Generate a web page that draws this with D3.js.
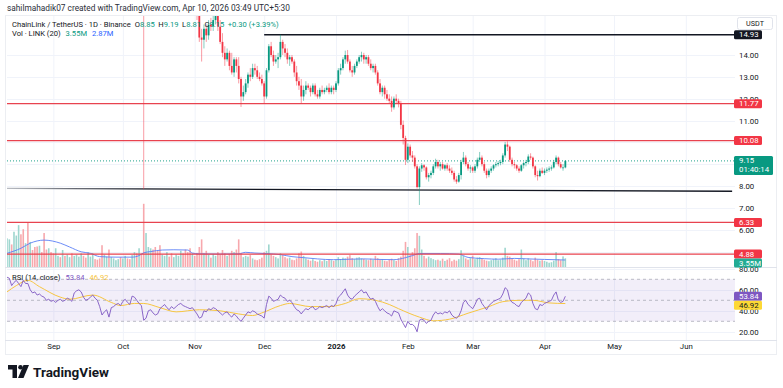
<!DOCTYPE html>
<html>
<head>
<meta charset="utf-8">
<script src="https://cdn.jsdelivr.net/npm/d3@7"></script>
<style>
  body { margin: 0; background: #fff; }
  svg text { font-family: Roboto, "Liberation Sans", Arial, sans-serif; }
</style>
</head>
<body>
<svg id="chart" width="783" height="388"></svg>
<script>
// daily candles, LINK/USDT 1D, first bar on startDate
var startDate = "2025-08-12";
var candles = [
  // Aug
  [20.2,22.0,19.9,21.7],[21.7,24.0,21.5,23.6],[23.6,24.6,21.9,22.4],[22.4,23.3,21.8,22.6],[22.6,23.4,22.3,23.0],
  [23.0,25.0,22.8,24.7],[24.7,25.2,23.4,24.2],[24.2,24.7,22.6,23.0],[23.0,25.6,22.8,25.3],[25.3,26.3,24.5,25.0],
  [25.0,27.8,24.2,26.9],[26.9,27.5,25.6,26.0],[26.0,26.8,25.2,25.7],[25.7,26.0,23.5,23.8],[23.8,24.9,23.3,24.6],
  [24.6,25.0,23.8,24.2],[24.2,24.8,23.6,24.0],[24.0,24.2,22.9,23.3],[23.3,23.7,23.0,23.4],[23.4,23.8,22.9,23.1],
  // Sep
  [23.1,23.3,21.9,22.3],[22.3,22.9,22.0,22.7],[22.7,23.1,22.4,22.9],[22.9,23.0,22.0,22.3],[22.3,22.9,22.0,22.4],
  [22.4,22.6,22.1,22.3],[22.3,22.8,22.2,22.6],[22.6,23.4,22.4,23.3],[23.3,23.5,22.6,22.8],[22.8,23.6,22.7,23.4],
  [23.4,23.9,23.1,23.6],[23.6,24.4,23.3,24.2],[24.2,24.6,23.8,24.3],[24.3,24.4,23.5,23.8],[23.8,24.0,22.9,23.2],
  [23.2,23.7,23.0,23.5],[23.5,24.2,23.0,24.0],[24.0,24.5,23.7,24.1],[24.1,24.2,22.8,22.9],[22.9,23.1,22.5,22.7],
  [22.7,22.9,22.1,22.2],[22.2,22.3,20.8,21.1],[21.1,21.6,20.9,21.3],[21.3,21.9,21.0,21.6],[21.6,21.7,20.0,20.2],
  [20.2,21.3,20.0,21.1],[21.1,21.4,20.9,21.2],[21.2,21.7,21.0,21.6],[21.6,22.0,21.2,21.7],[21.7,21.9,20.8,21.1],
  // Oct
  [21.1,22.2,21.0,22.0],[22.0,22.5,21.8,22.3],[22.3,22.6,21.7,22.0],[22.0,22.1,21.4,21.6],[21.6,22.5,21.5,22.3],
  [22.3,22.9,22.0,22.6],[22.6,22.8,21.2,21.4],[21.4,22.2,21.2,22.0],[22.0,22.1,20.9,21.4],[21.4,22.0,7.86,17.6],
  [17.6,18.5,16.8,17.7],[17.7,19.5,17.2,19.2],[19.2,20.0,18.8,19.5],[19.5,19.7,18.2,19.0],[19.0,19.3,17.8,18.0],
  [18.0,18.4,17.0,17.2],[17.2,17.5,16.2,16.6],[16.6,17.2,16.5,17.0],[17.0,17.6,16.8,17.4],[17.4,18.3,17.2,18.0],
  [18.0,18.4,17.0,17.4],[17.4,17.6,16.6,16.9],[16.9,17.5,16.7,17.3],[17.3,18.0,17.1,17.9],[17.9,18.1,17.6,17.9],
  [17.9,18.7,17.7,18.5],[18.5,18.8,17.9,18.0],[18.0,18.3,17.3,17.6],[17.6,17.9,17.0,17.4],[17.4,17.6,16.4,16.8],
  [16.8,17.2,16.5,16.9],
  // Nov
  [16.9,17.0,16.4,16.6],[16.6,16.7,15.6,15.8],[15.8,16.0,14.6,14.8],[14.8,15.2,13.7,14.7],[14.7,15.4,14.3,15.2],
  [15.2,15.4,14.6,14.9],[14.9,15.6,14.7,15.4],[15.4,15.7,15.1,15.3],[15.3,15.8,15.1,15.6],[15.6,16.3,15.4,15.9],
  [15.9,16.1,15.1,15.3],[15.3,15.6,14.5,14.6],[14.6,15.0,13.9,14.1],[14.1,14.4,13.5,13.8],[13.8,14.3,13.7,14.1],
  [14.1,14.2,13.3,13.5],[13.5,14.1,13.1,13.2],[13.2,13.9,13.0,13.8],[13.8,13.9,13.2,13.5],[13.5,13.9,12.7,12.9],
  [12.9,13.0,11.62,12.1],[12.1,12.6,11.9,12.3],[12.3,12.9,12.2,12.7],[12.7,13.2,12.5,13.1],[13.1,13.4,12.8,13.0],
  [13.0,13.6,12.9,13.4],[13.4,13.6,13.1,13.3],[13.3,13.5,12.9,13.0],[13.0,13.2,12.8,12.9],[12.9,13.1,12.6,12.7],
  // Dec
  [12.7,12.8,11.8,12.1],[12.1,13.4,12.0,13.3],[13.3,14.5,13.2,14.4],[14.4,14.6,13.9,14.0],[14.0,14.2,13.5,13.7],
  [13.7,14.0,13.6,13.8],[13.8,14.1,13.4,13.9],[13.9,14.93,13.8,14.6],[14.6,14.7,14.0,14.3],[14.3,14.5,13.9,14.1],
  [14.1,14.3,13.6,13.8],[13.8,14.0,13.5,13.9],[13.9,14.0,13.6,13.7],[13.7,13.8,13.0,13.2],[13.2,13.5,12.6,12.8],
  [12.8,13.0,12.4,12.6],[12.6,12.9,11.8,12.1],[12.1,12.6,11.9,12.4],[12.4,12.8,12.2,12.6],[12.6,12.7,12.4,12.5],
  [12.5,12.6,12.1,12.3],[12.3,12.7,12.2,12.6],[12.6,12.7,12.1,12.2],[12.2,12.4,12.0,12.1],[12.1,12.5,12.0,12.4],
  [12.4,12.6,12.2,12.3],[12.3,12.5,12.2,12.4],[12.4,12.6,12.3,12.5],[12.5,12.7,12.2,12.3],[12.3,12.6,12.2,12.5],
  [12.5,12.6,12.2,12.4],
  // Jan
  [12.4,12.8,12.3,12.7],[12.7,13.4,12.6,13.3],[13.3,13.6,13.1,13.4],[13.4,13.9,13.3,13.8],[13.8,14.2,13.6,14.0],
  [14.0,14.23,13.6,13.7],[13.7,13.8,13.2,13.3],[13.3,13.5,13.0,13.2],[13.2,13.6,13.1,13.5],[13.5,13.8,13.4,13.7],
  [13.7,14.0,13.6,13.9],[13.9,14.15,13.7,14.0],[14.0,14.1,13.6,13.8],[13.8,14.0,13.6,13.9],[13.9,14.0,13.5,13.6],
  [13.6,13.8,13.3,13.4],[13.4,13.6,13.2,13.5],[13.5,13.6,13.1,13.2],[13.2,13.3,12.6,12.7],[12.7,12.9,12.2,12.3],
  [12.3,12.6,12.1,12.5],[12.5,12.6,12.0,12.2],[12.2,12.4,11.9,12.0],[12.0,12.2,11.8,11.9],[11.9,12.1,11.4,11.6],
  [11.6,12.1,11.5,12.0],[12.0,12.2,11.8,11.9],[11.9,12.0,11.6,11.8],[11.8,11.9,10.6,10.8],[10.8,11.0,9.9,10.2],
  [10.2,10.3,8.96,9.2],
  // Feb
  [9.2,9.95,9.05,9.8],[9.8,9.9,9.3,9.4],[9.4,9.6,9.1,9.3],[9.3,9.4,8.8,8.9],[8.9,9.0,7.88,7.95],
  [7.95,8.9,7.13,8.8],[8.8,9.05,8.65,8.95],[8.95,9.0,8.7,8.85],[8.85,8.9,8.3,8.4],[8.4,8.6,8.2,8.5],
  [8.5,8.7,8.35,8.6],[8.6,9.0,8.5,8.9],[8.9,9.25,8.8,9.1],[9.1,9.2,8.8,8.9],[8.9,9.1,8.7,9.0],
  [9.0,9.1,8.75,8.8],[8.8,9.0,8.7,8.95],[8.95,9.05,8.7,8.8],[8.8,8.95,8.6,8.7],[8.7,8.85,8.5,8.6],
  [8.6,8.7,8.2,8.3],[8.3,8.45,8.1,8.2],[8.2,8.6,8.15,8.5],[8.5,9.2,8.3,9.1],[9.1,9.56,9.0,9.3],
  [9.3,9.4,8.9,9.0],[9.0,9.1,8.7,8.8],[8.8,8.95,8.6,8.85],
  // Mar
  [8.85,8.9,8.6,8.7],[8.7,9.0,8.6,8.9],[8.9,9.3,8.8,9.2],[9.2,9.56,9.1,9.3],[9.3,9.4,8.9,9.0],
  [9.0,9.1,8.6,8.7],[8.7,8.8,8.35,8.5],[8.5,8.8,8.4,8.7],[8.7,8.9,8.6,8.8],[8.8,9.0,8.7,8.95],
  [8.95,9.1,8.85,9.0],[9.0,9.15,8.9,9.05],[9.05,9.2,8.95,9.1],[9.1,9.5,9.0,9.4],[9.4,10.02,9.3,9.9],
  [9.9,10.05,9.6,9.8],[9.8,9.85,9.1,9.2],[9.2,9.3,8.9,9.0],[9.0,9.1,8.8,8.95],[8.95,9.0,8.7,8.8],
  [8.8,8.9,8.6,8.7],[8.7,9.0,8.65,8.95],[8.95,9.1,8.8,9.05],[9.05,9.2,8.9,9.1],[9.1,9.45,9.0,9.35],
  [9.35,9.5,9.2,9.3],[9.3,9.35,8.8,8.9],[8.9,8.95,8.4,8.5],[8.5,8.7,8.25,8.45],[8.45,8.8,8.4,8.7],
  [8.7,8.85,8.55,8.6],
  // Apr
  [8.6,8.8,8.5,8.7],[8.7,8.85,8.6,8.75],[8.75,8.9,8.65,8.8],[8.8,8.95,8.7,8.85],[8.85,9.2,8.8,9.1],
  [9.1,9.4,9.0,9.3],[9.3,9.35,8.9,9.0],[9.0,9.1,8.8,8.85],[8.85,9.0,8.7,8.85],[8.85,9.19,8.81,9.15]
];

// volume, millions of LINK
var volumes = [
  11.4,11.0,9.0,14.0,12.5,16.6,13.0,15.0,9.5,17.8,10.0,6.8,8.0,8.2,8.5,6.0,13.5,7.0,7.5,6.0,
  5.5,7.5,4.5,4.0,6.8,4.5,5.0,4.0,5.5,4.5,5.0,4.2,5.5,4.5,3.8,6.0,4.2,5.5,3.2,3.0,3.5,8.7,5.0,4.2,7.0,4.0,3.5,2.8,3.2,4.0,
  3.5,4.5,3.5,3.2,4.8,6.0,5.5,7.5,5.5,25.0,13.5,8.0,7.5,7.0,8.0,6.5,8.7,5.0,4.5,6.0,4.2,5.5,4.0,5.0,4.5,6.5,5.5,7.0,6.0,7.5,5.5,
  4.5,5.5,8.0,11.0,5.5,6.5,5.0,3.8,5.2,4.5,6.0,5.0,6.8,5.5,4.5,5.2,6.5,6.0,7.0,11.0,5.5,4.0,4.5,4.2,4.8,3.5,3.0,2.8,3.2,3.8,
  6.0,6.5,9.0,5.0,4.5,4.0,3.5,5.5,4.8,4.0,3.5,3.8,3.0,2.8,3.5,5.5,6.2,4.5,3.5,3.0,2.6,3.2,2.5,2.2,2.8,2.4,3.0,2.5,3.2,2.8,2.5,
  3.0,4.0,3.2,3.8,3.5,4.2,4.8,3.6,3.2,3.8,4.0,3.5,3.3,3.0,2.8,3.4,3.0,4.5,3.6,3.0,3.2,2.6,2.4,3.0,3.4,2.8,2.5,3.6,4.2,6.5,10.0,
  8.0,5.0,6.0,7.5,13.5,12.4,7.0,4.5,3.5,4.2,3.6,3.2,2.8,3.0,2.6,3.4,2.5,3.0,3.6,2.4,3.0,2.6,3.2,6.7,4.5,3.5,3.0,3.6,
  4.6,3.2,3.8,4.0,3.5,3.0,2.6,2.4,2.8,3.2,3.6,2.8,3.0,3.8,7.7,4.5,4.2,3.5,3.0,2.6,3.2,7.0,3.4,2.8,3.6,3.0,2.4,3.8,3.0,2.6,2.8,
  2.5,2.2,1.8,2.0,2.6,6.0,3.2,2.8,4.3,3.55
];

// Vol MA(20), read at these bar indexes
var volMaDays = [0,6,10,16,23,27,32,36,40,47,54,57,59,62,67,72,78,80,83,92,100,103,107,112,118,123,128,134,141,148,154,161,167,172,175,178,187,195,199,206,212,219,225,232,241];
var volMa = [5.5,7.5,9.5,10.7,9.5,8.0,6.1,5.5,4.2,4.0,4.0,4.6,5.7,6.2,6.8,6.9,6.8,5.6,5.3,5.2,5.3,5.9,5.6,5.4,5.0,4.2,3.8,3.3,3.0,3.2,3.3,3.1,3.0,3.8,4.6,5.4,5.4,5.2,3.9,3.4,3.2,3.5,3.3,3.1,2.87];

// RSI(14, close)
var rsi = [
  72,71,64,67,69,66,63,69,66,66,60,57,58,55,56,54,53,50,51,49,
  50,48,50,51,49,50,52,51,49,57,59,60,58,53,50,51,53,55,52,50,44,36,39,41,34,43,44,46,47,45,
  49,51,48,46,54,53,50,47,45,31,33,40,41,38,36,37,42,44,46,43,41,44,42,44,46,47,45,44,43,42,43,
  40,37,33,34,40,39,42,41,43,42,40,38,36,38,39,36,34,37,35,32,30,33,36,39,38,40,39,37,36,35,
  33,46,54,52,49,50,51,55,53,52,49,50,48,44,41,40,37,40,42,41,43,44,41,42,44,43,44,45,43,45,44,
  47,53,55,58,61,55,52,51,54,56,58,60,57,58,54,51,52,49,44,40,42,40,38,37,35,40,39,38,32,28,24,
  30,27,27,25,20,31,32,31,28,30,31,36,39,37,38,37,39,38,40,36,34,33,35,40,48,50,46,44,
  42,46,51,52,47,44,41,45,47,49,50,51,52,56,62,60,51,48,47,45,44,48,50,52,57,55,47,42,41,46,45,
  47,48,49,50,55,58,50,48,49,53.84
];

// RSI-based MA(14), read at these bar indexes
var rsiMaDays = [0,4,9,14,23,27,37,45,49,55,59,66,73,83,92,100,106,110,118,122,131,139,146,152,159,165,169,178,184,191,199,208,214,221,227,234,241];
var rsiMa = [58,64,69,63,53,51,55,48,45,47,47,43,39,41,40,37,35.5,38,45,47,44,44,47,51.5,50,46,42,34,30.5,32,37.7,44,48.7,50,50,47.5,46.92];

var priceGrid = [5,6,7,8,9,10,11,12,13,14];
var priceTicks = [6,7,8,11,12,13,14];   // the others sit under the level labels
var rsiTicks = [20,40,60,80];
var monthTicks = ["2025-09-01","2025-10-01","2025-11-01","2025-12-01","2026-01-01","2026-02-01","2026-03-01","2026-04-01","2026-05-01","2026-06-01"];
var monthLabels = ["Sep","Oct","Nov","Dec","2026","Feb","Mar","Apr","May","Jun"];

var redLevels = [11.77, 10.08, 6.33, 4.88];
var topLine = {from: "2025-12-01", price: 14.93};
var trendLine = [["2025-08-12", 7.89], ["2026-06-21", 7.76]];
var lastPrice = 9.15, lastVol = 3.55, lastVolMa = 2.87, lastRsi = 53.84, lastRsiMa = 46.92;

// ---- layout
var left = 7, right = 735;
var priceTop = 16, paneBottom = 267, rsiTop = 268, rsiBottom = 340;
var green = "#089981", red = "#f23645", lineRed = "#e8434f";

var parse = d3.utcParse("%Y-%m-%d");
var t0 = parse(startDate);
var dates = candles.map(function(c, i) { return d3.utcDay.offset(t0, i); });

var x = d3.scaleUtc()
  .domain([parse("2026-01-01"), parse("2026-04-01")])
  .range([336, 544.5]);
var y = d3.scaleLinear().domain([8, 14]).range([186, 55]);
var yVol = d3.scaleLinear().domain([0, 10]).range([267.3, 241.9]);
var yRsi = d3.scaleLinear().domain([30, 70]).range([321.3, 279.3]);

var svg = d3.select("#chart");
var defs = svg.append("defs");
defs.append("clipPath").attr("id", "clipPrice")
  .append("rect").attr("x", left).attr("y", priceTop)
  .attr("width", right - left).attr("height", paneBottom - priceTop);
defs.append("clipPath").attr("id", "clipRsi")
  .append("rect").attr("x", left).attr("y", rsiTop)
  .attr("width", right - left).attr("height", rsiBottom - rsiTop);
var grad = defs.append("linearGradient").attr("id", "trendFade")
  .attr("gradientUnits", "userSpaceOnUse")
  .attr("x1", left).attr("x2", 145).attr("y1", 0).attr("y2", 0);
grad.append("stop").attr("offset", 0).attr("stop-color", "#b8bbc2");
grad.append("stop").attr("offset", 1).attr("stop-color", "#131722");

svg.append("rect").attr("width", 783).attr("height", 388).attr("fill", "#fff");

// frame
svg.append("rect").attr("x", 5.5).attr("y", 15.5).attr("width", 771).attr("height", 339)
  .attr("fill", "none").attr("stroke", "#eceef2");

// header
svg.append("text").attr("x", 7).attr("y", 10.5)
  .attr("font-size", 8.3).attr("fill", "#2a2e39")
  .text("sahilmahadik07 created with TradingView.com, Apr 10, 2026 03:49 UTC+5:30");

// ---- grid
var grid = svg.append("g");
grid.selectAll(".vg").data(monthTicks).enter().append("line")
  .attr("x1", function(d) { return x(parse(d)) + 0.5; })
  .attr("x2", function(d) { return x(parse(d)) + 0.5; })
  .attr("y1", priceTop).attr("y2", rsiBottom)
  .attr("stroke", "#f0f3fa");
grid.selectAll(".hg").data(priceGrid).enter().append("line")
  .attr("x1", left).attr("x2", right)
  .attr("y1", function(d) { return Math.round(y(d)) + 0.5; })
  .attr("y2", function(d) { return Math.round(y(d)) + 0.5; })
  .attr("stroke", "#f0f3fa");
grid.selectAll(".rg").data(rsiTicks).enter().append("line")
  .attr("x1", left).attr("x2", right)
  .attr("y1", function(d) { return Math.round(yRsi(d)) + 0.5; })
  .attr("y2", function(d) { return Math.round(yRsi(d)) + 0.5; })
  .attr("stroke", "#f0f3fa");

// pane separators
svg.append("line").attr("x1", 5).attr("x2", 777).attr("y1", 267.5).attr("y2", 267.5).attr("stroke", "#e0e3eb");
svg.append("line").attr("x1", 5).attr("x2", 777).attr("y1", 340.5).attr("y2", 340.5).attr("stroke", "#e0e3eb");

// ---- volume
var pricePane = svg.append("g").attr("clip-path", "url(#clipPrice)");
pricePane.selectAll(".vol").data(volumes).enter().append("rect")
  .attr("x", function(d, i) { return x(dates[i]) - 0.8; })
  .attr("width", 1.6)
  .attr("y", function(d) { return yVol(d); })
  .attr("height", function(d) { return yVol(0) - yVol(d); })
  .attr("fill", function(d, i) { return candles[i][3] >= candles[i][0] ? "#9ed6cf" : "#f7a8ad"; });

pricePane.append("path")
  .datum(volMaDays)
  .attr("fill", "none").attr("stroke", "#5b7ff6").attr("stroke-width", 0.9)
  .attr("d", d3.line()
    .x(function(d) { return x(dates[d]); })
    .y(function(d, i) { return yVol(volMa[i]); })
    .curve(d3.curveMonotoneX));

// ---- levels
pricePane.selectAll(".lvl").data(redLevels).enter().append("line")
  .attr("x1", left).attr("x2", right)
  .attr("y1", function(d) { return y(d); }).attr("y2", function(d) { return y(d); })
  .attr("stroke", lineRed).attr("stroke-width", 1.3);

pricePane.append("line")
  .attr("x1", x(parse(topLine.from))).attr("x2", right)
  .attr("y1", y(topLine.price)).attr("y2", y(topLine.price))
  .attr("stroke", "#131722").attr("stroke-width", 1.4);

pricePane.append("line")
  .attr("x1", x(parse(trendLine[0][0]))).attr("y1", y(trendLine[0][1]))
  .attr("x2", x(parse(trendLine[1][0]))).attr("y2", y(trendLine[1][1]))
  .attr("stroke", "url(#trendFade)").attr("stroke-width", 1.4);

pricePane.append("line")
  .attr("x1", left).attr("x2", right)
  .attr("y1", y(lastPrice)).attr("y2", y(lastPrice))
  .attr("stroke", green).attr("stroke-width", 0.9).attr("stroke-dasharray", "1,2");

// ---- candles
var bars = pricePane.selectAll(".candle").data(candles).enter().append("g");
bars.append("line")
  .attr("x1", function(d, i) { return x(dates[i]); })
  .attr("x2", function(d, i) { return x(dates[i]); })
  .attr("y1", function(d) { return y(d[1]); })
  .attr("y2", function(d) { return y(d[2]); })
  .attr("stroke", function(d) { return d[3] >= d[0] ? green : red; })
  .attr("stroke-opacity", 0.55)
  .attr("stroke-width", 0.9);
bars.append("rect")
  .attr("x", function(d, i) { return x(dates[i]) - 0.9; })
  .attr("width", 1.8)
  .attr("y", function(d) { return y(Math.max(d[0], d[3])); })
  .attr("height", function(d) { return Math.max(0.8, Math.abs(y(d[0]) - y(d[3]))); })
  .attr("fill", function(d) { return d[3] >= d[0] ? green : red; });

// ---- RSI pane
var rsiPane = svg.append("g").attr("clip-path", "url(#clipRsi)");
rsiPane.append("rect")
  .attr("x", left).attr("width", right - left)
  .attr("y", yRsi(70)).attr("height", yRsi(30) - yRsi(70))
  .attr("fill", "#7e57c2").attr("fill-opacity", 0.1);
rsiPane.selectAll(".band").data([70, 50, 30]).enter().append("line")
  .attr("x1", left).attr("x2", right)
  .attr("y1", function(d) { return yRsi(d); }).attr("y2", function(d) { return yRsi(d); })
  .attr("stroke", "#a9acb6").attr("stroke-width", 0.8).attr("stroke-dasharray", "3,3");
rsiPane.append("path")
  .datum(rsiMaDays)
  .attr("fill", "none").attr("stroke", "#f7c641").attr("stroke-width", 1)
  .attr("d", d3.line()
    .x(function(d) { return x(dates[d]); })
    .y(function(d, i) { return yRsi(rsiMa[i]); })
    .curve(d3.curveMonotoneX));
rsiPane.append("path")
  .datum(rsi)
  .attr("fill", "none").attr("stroke", "#7e57c2").attr("stroke-width", 0.9)
  .attr("d", d3.line()
    .x(function(d, i) { return x(dates[i]); })
    .y(function(d) { return yRsi(d); }));

// ---- axes
var axisFont = 7.8;
var xAxis = svg.append("g").attr("transform", "translate(0,340)")
  .call(d3.axisBottom(x)
    .tickValues(monthTicks.map(parse))
    .tickFormat(function(d, i) { return monthLabels[i]; })
    .tickSize(0).tickPadding(3));
xAxis.select(".domain").remove();
xAxis.selectAll("text").attr("font-size", axisFont).attr("fill", "#131722")
  .attr("font-weight", function(d, i) { return monthLabels[i] === "2026" ? "bold" : null; });

var yAxis = svg.append("g").attr("transform", "translate(" + 736 + ",0)")
  .call(d3.axisRight(y).tickValues(priceTicks).tickFormat(d3.format(".2f")).tickSize(0).tickPadding(3));
yAxis.select(".domain").remove();
yAxis.selectAll("text").attr("font-size", axisFont).attr("fill", "#131722");

var rAxis = svg.append("g").attr("transform", "translate(" + 736 + ",0)")
  .call(d3.axisRight(yRsi).tickValues(rsiTicks).tickFormat(d3.format(".2f")).tickSize(0).tickPadding(3));
rAxis.select(".domain").remove();
rAxis.selectAll("text").attr("font-size", axisFont).attr("fill", "#131722");

// USDT box
svg.append("rect").attr("x", 737.5).attr("y", 17.5).attr("width", 35).attr("height", 12)
  .attr("rx", 2).attr("fill", "#fff").attr("stroke", "#e0e3eb");
svg.append("text").attr("x", 755).attr("y", 26.2).attr("text-anchor", "middle")
  .attr("font-size", 7.2).attr("fill", "#131722").text("USDT");

// ---- price scale labels
function placeLabels(list) {
  list.sort(function(a, b) { return a.y - b.y; });
  for (var i = 1; i < list.length; i++) {
    var gap = (list[i - 1].h + list[i].h) / 2;
    if (list[i].y - list[i - 1].y < gap) list[i].y = list[i - 1].y + gap;
  }
  return list;
}
var priceLabels = placeLabels([
  {y: y(14.93), h: 9, text: ["14.93"], bg: "#131722", fg: "#fff"},
  {y: y(11.77), h: 9, text: ["11.77"], bg: red, fg: "#fff"},
  {y: y(10.08), h: 9, text: ["10.08"], bg: red, fg: "#fff"},
  {y: y(lastPrice) + 4.5, h: 19, text: [d3.format(".2f")(lastPrice), "01:40:14"], bg: green, fg: "#fff"},
  {y: y(6.33), h: 9, text: ["6.33"], bg: red, fg: "#fff"},
  {y: y(4.88), h: 9, text: ["4.88"], bg: red, fg: "#fff"},
  {y: yVol(lastVol), h: 9, text: [lastVol + "M"], bg: "#22ab94", fg: "#fff"}
]);
var rsiLabels = placeLabels([
  {y: yRsi(lastRsi), h: 9, text: [d3.format(".2f")(lastRsi)], bg: "#7e57c2", fg: "#fff"},
  {y: yRsi(lastRsiMa), h: 9, text: [d3.format(".2f")(lastRsiMa)], bg: "#fdd835", fg: "#131722"}
]);
var labelG = svg.append("g");
priceLabels.concat(rsiLabels).forEach(function(l) {
  var w = l.text.length > 1 ? 39 : (l.text[0].length > 5 ? 31 : 28);
  labelG.append("rect").attr("x", 734).attr("y", l.y - l.h / 2).attr("width", w).attr("height", l.h)
    .attr("rx", 1.5).attr("fill", l.bg);
  l.text.forEach(function(t, k) {
    labelG.append("text").attr("x", 739).attr("y", l.y - l.h / 2 + 7 + k * 9)
      .attr("font-size", 7.8).attr("fill", l.fg).text(t);
  });
});

// ---- legends
var lg1 = svg.append("text").attr("x", 12).attr("y", 26.7).attr("font-size", 7.6).attr("fill", "#131722");
lg1.append("tspan").text("ChainLink / TetherUS \u00b7 1D \u00b7 Binance");
[["O", "8.85"], ["H", "9.19"], ["L", "8.81"], ["C", "9.15"]].forEach(function(p, i) {
  lg1.append("tspan").attr("dx", i === 0 ? 4 : 3.5).text(p[0]);
  lg1.append("tspan").attr("fill", green).text(p[1]);
});
lg1.append("tspan").attr("dx", 3.5).attr("fill", green).text("+0.30 (+3.39%)");

var lg2 = svg.append("text").attr("x", 12).attr("y", 35.7).attr("font-size", 7.6).attr("fill", "#131722");
lg2.append("tspan").text("Vol \u00b7 LINK (20)");
lg2.append("tspan").attr("dx", 5).attr("fill", green).text(lastVol + "M");
lg2.append("tspan").attr("dx", 5).attr("fill", "#2962ff").text(lastVolMa + "M");

var lg3 = svg.append("text").attr("x", 12).attr("y", 279.5).attr("font-size", 7.6).attr("fill", "#131722");
lg3.append("tspan").text("RSI (14, close)");
lg3.append("tspan").attr("dx", 5).attr("fill", "#7e57c2").text(d3.format(".2f")(lastRsi));
lg3.append("tspan").attr("dx", 5).attr("fill", "#f7c641").text(d3.format(".2f")(lastRsiMa));

// ---- TradingView mark
var logo = svg.append("g").attr("transform", "translate(8,365)");
logo.append("path").attr("d", "M0,0 H9 V13 H4.5 V4.5 H0 Z").attr("fill", "#131722");
logo.append("circle").attr("cx", 12.5).attr("cy", 2.3).attr("r", 2.3).attr("fill", "#131722");
logo.append("path").attr("d", "M15.5,0 H21 L15.5,13 H10 Z").attr("fill", "#131722");
svg.append("text").attr("x", 33).attr("y", 377).attr("font-size", 13.5).attr("font-weight", "bold")
  .attr("fill", "#131722").text("TradingView");
</script>
</body>
</html>
